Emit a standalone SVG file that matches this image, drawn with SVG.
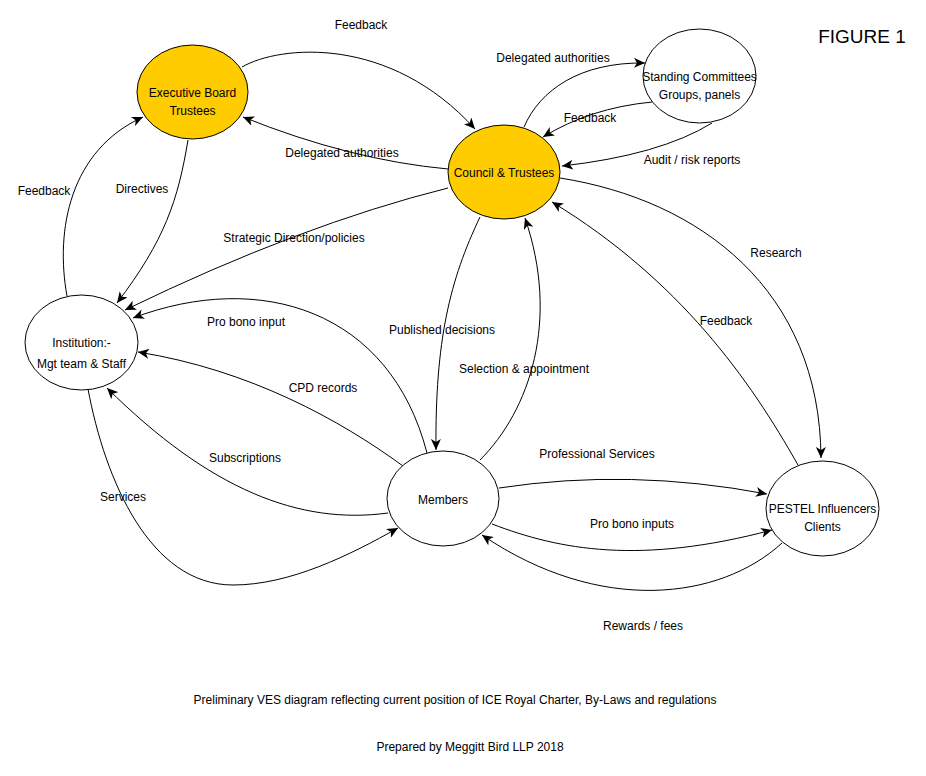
<svg xmlns="http://www.w3.org/2000/svg" width="926" height="776" viewBox="0 0 926 776">
<style>
text{font-family:"Liberation Sans",Arial,sans-serif;font-size:12px;fill:#000;text-anchor:middle}
.n{stroke:#000;stroke-width:1}
.y{fill:#FFCC00}
.w{fill:#fff}
.c path{fill:none;stroke:#000;stroke-width:1;marker-end:url(#ah)}
</style>
<defs>
<marker id="ah" markerUnits="userSpaceOnUse" markerWidth="12" markerHeight="10" refX="11" refY="5" orient="auto" viewBox="0 0 12 10">
<path d="M0,0 L11,5 L0,10 L3,5 z" fill="#000"/>
</marker>
</defs>
<rect width="926" height="776" fill="#fff"/>
<g class="c" id="connectors">
<path d="M242,67 C280,45 390,35 475,129"/>
<path d="M448,169 Q350,160 243,117"/>
<path d="M524,127 C540,90 580,62 645,63"/>
<path d="M652,102 Q590,108 543,137"/>
<path d="M712,123 Q660,155 562,166"/>
<path d="M188,140 C178,200 165,240 117,303"/>
<path d="M67,296 C55,230 70,150 143,117"/>
<path d="M448,188 Q300,225 125,310"/>
<path d="M427,453 C390,310 260,270 133,318"/>
<path d="M403,466 C340,420 250,370 138,352"/>
<path d="M388,513 C300,525 210,490 107,388"/>
<path d="M88,389 C105,480 150,585 233,585 C290,585 350,555 398,528"/>
<path d="M480,217 C450,280 435,340 436,450"/>
<path d="M480,460 C530,410 560,320 525,218"/>
<path d="M798,465 C750,380 680,280 552,202"/>
<path d="M560,178 C700,200 820,290 821,458"/>
<path d="M499,488 Q630,468 767,494"/>
<path d="M492,524 C560,550 640,565 772,530"/>
<path d="M782,543 C720,600 600,615 482,535"/>
</g>
<g id="exec"><ellipse class="n y" cx="192.5" cy="92" rx="55.5" ry="47"/><text x="192.5" y="97">Executive Board</text><text x="192.5" y="115">Trustees</text></g>
<g id="council"><ellipse class="n y" cx="504" cy="172" rx="56" ry="47"/><text x="504" y="177">Council &amp; Trustees</text></g>
<g id="standing"><ellipse class="n w" cx="699.5" cy="76" rx="56.5" ry="47"/><text x="699.5" y="81">Standing Committees</text><text x="699.5" y="99">Groups, panels</text></g>
<g id="institution"><ellipse class="n w" cx="81.5" cy="342.5" rx="56.5" ry="47.5"/><text x="81.5" y="347">Institution:-</text><text x="81.5" y="368">Mgt team &amp; Staff</text></g>
<g id="members"><ellipse class="n w" cx="443" cy="498.5" rx="56" ry="47.5"/><text x="443" y="504">Members</text></g>
<g id="pestel"><ellipse class="n w" cx="822.5" cy="508.5" rx="56.5" ry="47.5"/><text x="822.5" y="513">PESTEL Influencers</text><text x="822.5" y="531">Clients</text></g>
<g id="labels">
<text x="361" y="29">Feedback</text>
<text x="862" y="43" style="font-size:19px">FIGURE 1</text>
<text x="553" y="62">Delegated authorities</text>
<text x="590" y="122">Feedback</text>
<text x="692" y="164">Audit / risk reports</text>
<text x="342" y="157">Delegated authorities</text>
<text x="44" y="195">Feedback</text>
<text x="142" y="193">Directives</text>
<text x="294" y="242">Strategic Direction/policies</text>
<text x="776" y="257">Research</text>
<text x="246" y="326">Pro bono input</text>
<text x="442" y="334">Published decisions</text>
<text x="726" y="325">Feedback</text>
<text x="524" y="373">Selection &amp; appointment</text>
<text x="323" y="392">CPD records</text>
<text x="245" y="462">Subscriptions</text>
<text x="597" y="458">Professional Services</text>
<text x="123" y="501">Services</text>
<text x="632" y="528">Pro bono inputs</text>
<text x="643" y="630">Rewards / fees</text>
<text x="455" y="704">Preliminary VES diagram reflecting current position of ICE Royal Charter, By-Laws and regulations</text>
<text x="470" y="751">Prepared by Meggitt Bird LLP 2018</text>
</g>
</svg>
